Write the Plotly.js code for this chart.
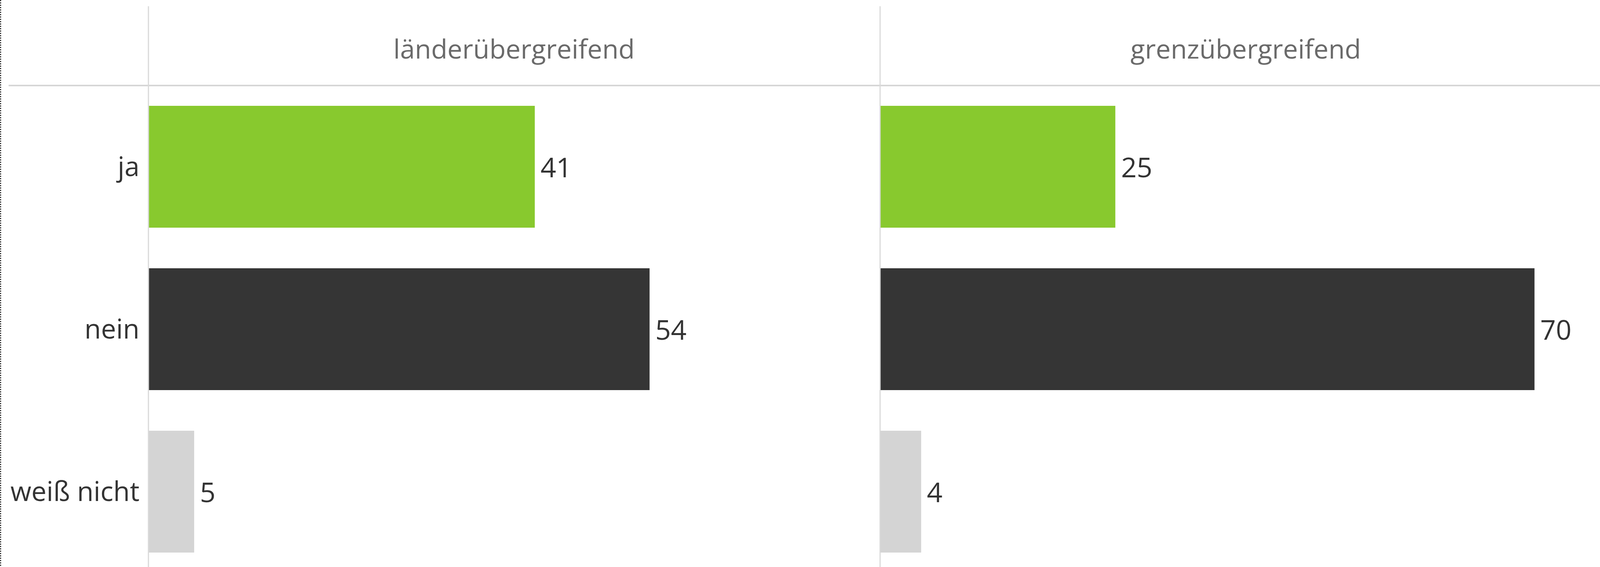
<!DOCTYPE html>
<html>
<head>
<meta charset="utf-8">
<script src="https://cdn.plot.ly/plotly-3.0.1.min.js"></script>
<style>html,body{margin:0;padding:0;background:#fff;}#chart{width:4098px;height:1452px;}</style>
</head>
<body>
<div id="chart"></div>
<script>
const categories = ['ja', 'nein', 'weiß nicht'];
const panelTitles = ['länderübergreifend', 'grenzübergreifend'];
const laenderValues = [41.4, 53.7, 4.9];
const grenzValues = [25.2, 70.1, 4.4];
const barColors = ['#88C92E', '#353535', '#D4D4D4'];

const W = 4098, H = 1452;
const px = v => v / W;
const py = v => 1 - v / H;
const FONT = 'Open Sans, sans-serif';

function barTrace(values, xa, ya) {
  return {
    type: 'bar', orientation: 'h',
    y: categories, x: values,
    xaxis: xa, yaxis: ya,
    width: 0.75,
    marker: {color: barColors, line: {width: 0}},
    texttemplate: '\u2009%{x:.0f}',
    textposition: 'outside',
    cliponaxis: false,
    textfont: {family: FONT, size: 70, color: '#333333'},
    hoverinfo: 'none',
    showlegend: false
  };
}

const data = [
  barTrace(laenderValues, 'x', 'y'),
  barTrace(grenzValues, 'x2', 'y2')
];

const yTop = 219;
const band = 416;
const yRangeBottom = -0.5 + (H - yTop) / band;

const xCommon = {showgrid: false, zeroline: false, showticklabels: false, showline: false, ticks: ''};
const yCommon = {
  type: 'category', domain: [0, py(yTop)], range: [yRangeBottom, -0.5],
  showgrid: false, zeroline: false, showline: false, ticks: ''
};

const layout = {
  width: W, height: H,
  margin: {l: 0, r: 0, t: 0, b: 0},
  paper_bgcolor: '#ffffff', plot_bgcolor: 'rgba(0,0,0,0)',
  bargap: 0.25,
  xaxis: Object.assign({}, xCommon, {domain: [px(380), px(2253)], range: [0, 78.4], anchor: 'y'}),
  xaxis2: Object.assign({}, xCommon, {domain: [px(2253), 1], range: [0, 77.2], anchor: 'y2'}),
  yaxis: Object.assign({}, yCommon, {anchor: 'x', showticklabels: true, ticklabelstandoff: 22,
    tickfont: {family: FONT, size: 69, color: '#333333'}}),
  yaxis2: Object.assign({}, yCommon, {anchor: 'x2', showticklabels: false}),
  annotations: [
    {xref: 'paper', yref: 'paper', x: px(1316), y: py(123), text: panelTitles[0], showarrow: false,
     xanchor: 'center', yanchor: 'middle', font: {family: FONT, size: 68, color: '#6a6a6a'}},
    {xref: 'paper', yref: 'paper', x: px(3189), y: py(123), text: panelTitles[1], showarrow: false,
     xanchor: 'center', yanchor: 'middle', font: {family: FONT, size: 68, color: '#6a6a6a'}}
  ],
  shapes: [
    {type: 'line', xref: 'paper', yref: 'paper', x0: px(22), x1: 1, y0: py(219), y1: py(219),
     line: {color: '#d6d6d6', width: 4}},
    {type: 'line', xref: 'paper', yref: 'paper', x0: px(380), x1: px(380), y0: py(16), y1: 0,
     line: {color: '#d9d9d9', width: 3}},
    {type: 'line', xref: 'paper', yref: 'paper', x0: px(2253), x1: px(2253), y0: py(16), y1: 0,
     line: {color: '#d9d9d9', width: 3}},
    {type: 'line', xref: 'paper', yref: 'paper', x0: px(1.5), x1: px(1.5), y0: 1, y1: 0,
     line: {color: '#333333', width: 3, dash: 'dot'}}
  ]
};

Plotly.newPlot('chart', data, layout, {staticPlot: true, displayModeBar: false});
</script>
</body>
</html>
